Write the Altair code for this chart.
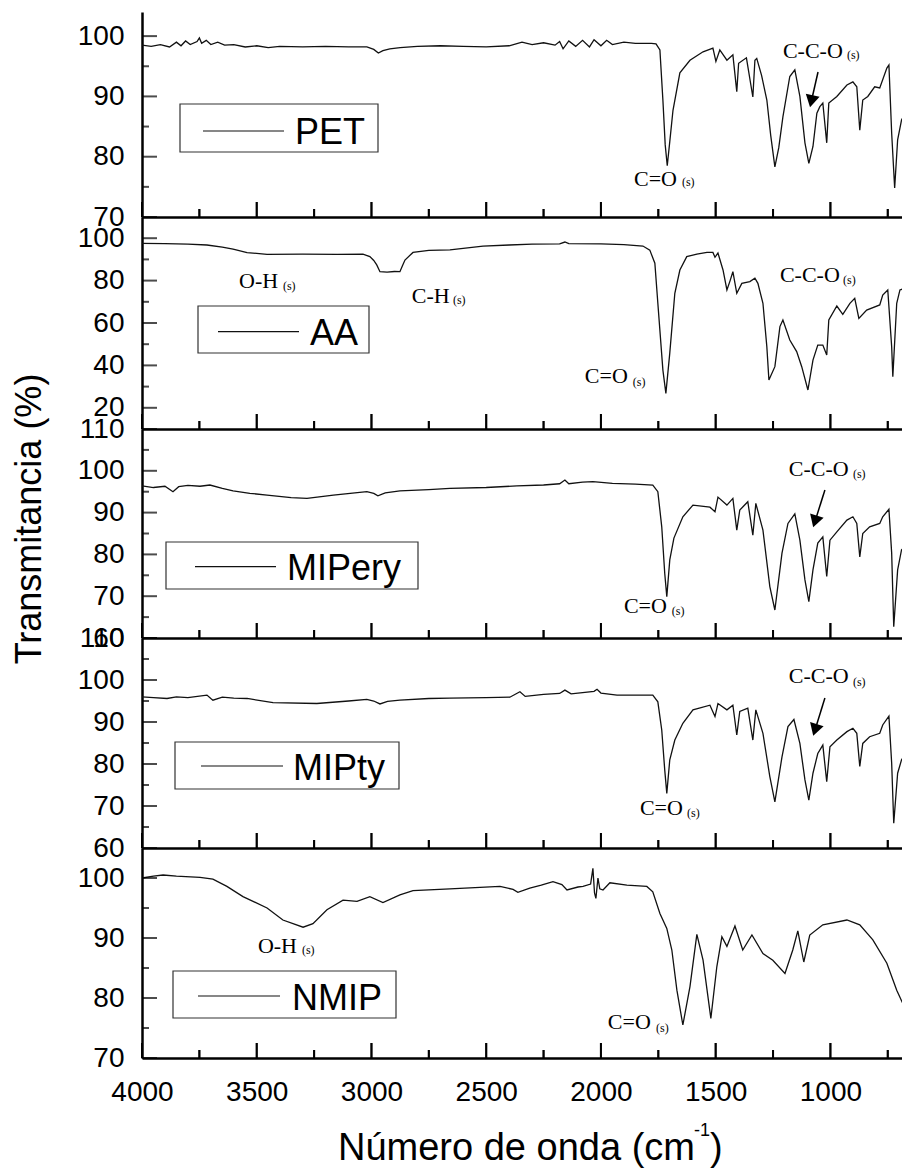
import altair as alt
import pandas as pd

# ---------------- spectra (wavenumber cm-1, transmittance %) ----------------
PET_WN = [4000, 3960, 3920, 3880, 3850, 3830, 3810, 3790, 3760, 3750, 3740, 3720, 3700, 3670, 3640, 3600,
          3550, 3500, 3450, 3400, 3300, 3200, 3100, 3020, 2990, 2970, 2950, 2920, 2875, 2800, 2700, 2600,
          2500, 2400, 2344, 2300, 2250, 2200, 2180, 2165, 2140, 2110, 2080, 2050, 2030, 2000, 1975, 1950,
          1900, 1850, 1780, 1760, 1743, 1730, 1720, 1711, 1700, 1686, 1656, 1612, 1555, 1512, 1499, 1482,
          1451, 1425, 1408, 1400, 1366, 1338, 1329, 1321, 1300, 1277, 1260, 1242, 1225, 1207, 1177, 1155,
          1133, 1111, 1094, 1076, 1059, 1046, 1033, 1016, 1007, 972, 928, 902, 885, 872, 859, 837, 807,
          785, 754, 745, 733, 720, 707, 690, 675]
PET_T = [98.5, 98.3, 98.6, 98.2, 99.0, 98.4, 99.2, 98.6, 99.1, 99.7, 98.8, 99.3, 98.6, 99.0, 98.5, 98.6,
         98.2, 98.4, 98.1, 98.3, 98.2, 98.3, 98.2, 98.2, 97.8, 97.2, 97.6, 97.9, 98.1, 98.3, 98.4, 98.3,
         98.2, 98.4, 99.0, 98.6, 98.9, 98.5, 99.1, 97.9, 99.2, 98.3, 99.3, 98.2, 99.4, 98.4, 99.3, 98.6,
         99.0, 98.8, 98.8, 98.7, 97.7, 89.4, 82.0, 78.5, 82.5, 87.7, 93.9, 96.0, 97.4, 98.0, 95.8, 97.7,
         96.0, 96.9, 90.8, 95.5, 96.4, 89.9, 96.0, 96.3, 93.5, 89.4, 83.5, 78.3, 81.5, 86.6, 93.3, 94.4,
         90.0, 82.3, 78.9, 81.7, 87.2, 88.3, 88.9, 82.3, 88.9, 90.0, 91.9, 92.4, 91.6, 84.4, 89.4, 90.0, 91.6,
         91.4, 94.7, 95.2, 83.9, 74.8, 82.8, 86.1, 87.2]

AA_WN = [4000, 3900, 3800, 3717, 3650, 3603, 3542, 3455, 3300, 3150, 3037, 3007, 2990, 2977, 2963, 2932,
         2900, 2876, 2865, 2854, 2819, 2750, 2658, 2514, 2400, 2300, 2180, 2157, 2140, 2000, 1900, 1817,
         1787, 1765, 1752, 1730, 1717, 1700, 1678, 1656, 1626, 1582, 1538, 1512, 1503, 1490, 1468, 1451,
         1437, 1425, 1408, 1386, 1351, 1329, 1316, 1294, 1277, 1268, 1242, 1220, 1207, 1177, 1147, 1125,
         1098, 1076, 1055, 1033, 1016, 1007, 972, 946, 915, 894, 876, 842, 785, 772, 750, 733, 728, 711,
         697, 675]
AA_T = [97.6, 97.4, 97.2, 96.8, 95.8, 94.8, 93.2, 92.4, 92.5, 92.4, 92.5, 91.3, 89.5, 87.4, 84.2, 84.0,
        84.3, 84.2, 87.0, 89.7, 93.3, 94.3, 94.5, 96.3, 96.8, 97.2, 97.3, 98.2, 97.4, 97.3, 97.0, 96.3,
        94.4, 88.2, 69.3, 37.8, 26.8, 45.8, 74.0, 85.0, 91.3, 92.5, 93.3, 93.3, 91.0, 93.0, 85.0, 75.6,
        80.0, 84.2, 74.0, 78.7, 79.5, 81.1, 78.7, 69.3, 48.8, 33.1, 39.4, 58.3, 61.4, 52.0, 46.5, 39.4,
        28.4, 42.5, 49.6, 49.6, 44.9, 61.4, 68.0, 64.1, 69.3, 71.6, 62.2, 66.1, 68.5, 73.2, 75.6, 48.8, 34.7, 69.3,
        75.6, 76.4]

MIPERY_WN = [4000, 3950, 3900, 3865, 3840, 3800, 3747, 3704, 3650, 3603, 3530, 3455, 3350, 3281, 3166, 3020,
             2990, 2972, 2940, 2876, 2750, 2658, 2500, 2366, 2250, 2180, 2157, 2140, 2080, 2035, 1950, 1850,
             1774, 1752, 1735, 1722, 1713, 1700, 1682, 1643, 1599, 1525, 1503, 1490, 1451, 1425, 1408, 1395,
             1360, 1338, 1325, 1294, 1264, 1242, 1211, 1185, 1155, 1133, 1111, 1094, 1076, 1055, 1033, 1016,
             1002, 972, 928, 902, 885, 872, 859, 829, 785, 772, 745, 733, 724, 707, 690, 675]
MIPERY_T = [96.4, 96.0, 96.3, 95.0, 96.2, 96.5, 96.3, 96.6, 95.8, 95.2, 94.6, 94.2, 93.6, 93.4, 94.2, 95.0,
            94.6, 94.0, 94.7, 95.2, 95.5, 95.8, 96.0, 96.4, 96.6, 96.9, 97.8, 96.9, 97.3, 97.4, 97.0, 96.8,
            96.6, 95.0, 86.6, 75.5, 69.9, 78.7, 83.9, 89.0, 91.8, 91.3, 90.2, 93.7, 91.8, 93.4, 85.8, 90.6,
            92.6, 84.6, 92.2, 85.8, 72.3, 66.7, 80.3, 87.4, 89.7, 83.4, 73.9, 68.7, 76.3, 82.7, 84.2, 74.7,
            83.4, 85.4, 88.2, 89.0, 87.4, 79.4, 85.0, 86.6, 87.4, 89.0, 90.8, 80.3, 62.7, 76.3, 81.1, 81.8]

MIPTY_WN = [4000, 3950, 3891, 3850, 3800, 3717, 3700, 3691, 3650, 3600, 3542, 3429, 3238, 3100, 3020, 2990,
            2963, 2930, 2876, 2750, 2658, 2500, 2397, 2353, 2330, 2250, 2180, 2157, 2130, 2080, 2030, 2017,
            2000, 1930, 1774, 1752, 1735, 1722, 1713, 1700, 1678, 1643, 1599, 1525, 1503, 1490, 1451, 1425,
            1408, 1395, 1360, 1338, 1325, 1294, 1264, 1242, 1211, 1185, 1159, 1133, 1111, 1094, 1076, 1055,
            1033, 1016, 1002, 972, 928, 902, 885, 872, 859, 829, 785, 772, 745, 733, 724, 707, 690, 675]
MIPTY_T = [96.0, 95.8, 95.6, 96.0, 95.8, 96.4, 95.6, 95.2, 95.9, 95.7, 95.6, 94.6, 94.4, 95.0, 95.4, 95.0,
           94.3, 94.9, 95.2, 95.6, 95.7, 95.8, 95.9, 97.2, 96.1, 96.6, 96.8, 97.6, 96.7, 97.0, 97.3, 97.8,
           96.9, 96.4, 96.4, 94.8, 88.1, 78.6, 73.0, 81.0, 85.7, 89.7, 92.9, 94.0, 91.3, 94.4, 92.9, 94.0,
           86.9, 92.5, 93.3, 85.7, 92.9, 87.3, 77.0, 71.0, 81.7, 88.9, 90.6, 84.9, 76.2, 71.4, 77.8, 82.5,
           84.5, 75.8, 84.1, 85.7, 87.7, 88.5, 87.3, 79.4, 84.9, 86.5, 87.3, 89.3, 91.4, 80.2, 65.9, 77.8, 81.0, 82.1]

NMIP_WN = [4000, 3950, 3908, 3850, 3747, 3691, 3630, 3560, 3455, 3386, 3298, 3255, 3194, 3124, 3063, 3007,
           2950, 2876, 2819, 2658, 2440, 2383, 2362, 2310, 2260, 2209, 2170, 2148, 2100, 2078, 2045, 2035,
           2028, 2022, 2013, 2005, 1991, 1961, 1887, 1800, 1774, 1743, 1713, 1691, 1669, 1643, 1612, 1582,
           1555, 1521, 1495, 1473, 1451, 1416, 1382, 1342, 1294, 1251, 1198, 1164, 1142, 1116, 1090, 1033,
           928, 872, 815, 754, 711, 675]
NMIP_T = [100.0, 100.3, 100.5, 100.3, 100.1, 99.8, 98.6, 96.9, 95.0, 93.0, 91.8, 92.4, 94.7, 96.3, 96.1, 96.9,
          95.9, 97.2, 97.9, 98.2, 98.6, 98.1, 97.6, 98.3, 98.8, 99.4, 98.9, 98.0, 98.5, 98.6, 99.0, 101.6,
          97.5, 96.6, 100.0, 98.2, 98.0, 99.2, 98.8, 98.6, 97.7, 94.1, 91.6, 88.0, 81.3, 75.5, 81.9, 90.6,
          86.3, 76.6, 85.2, 90.2, 88.6, 92.0, 88.0, 90.5, 87.4, 86.3, 84.1, 88.0, 91.2, 86.0, 90.5, 92.2,
          93.0, 92.2, 89.7, 85.8, 81.3, 78.3]

NAMES = ["PET", "AA", "MIPery", "MIPty", "NMIP"]
SPECTRA = [(PET_WN, PET_T), (AA_WN, AA_T), (MIPERY_WN, MIPERY_T), (MIPTY_WN, MIPTY_T), (NMIP_WN, NMIP_T)]

# ---------------- axes ----------------
X_DOMAIN = [4000, 688]
X_MAJOR = [4000, 3500, 3000, 2500, 2000, 1500, 1000]
X_MINOR = [3750, 3250, 2750, 2250, 1750, 1250, 750]
Y_DOMAINS = [[70, 104], [10, 110], [60, 110], [60, 110], [70, 105]]
Y_MAJOR = [[70, 80, 90, 100], [20, 40, 60, 80, 100], [60, 70, 80, 90, 100, 110],
           [60, 70, 80, 90, 100, 110], [70, 80, 90, 100]]
Y_MINOR = [[75, 85, 95], [30, 50, 70, 90], [65, 75, 85, 95, 105], [65, 75, 85, 95, 105], [75, 85, 95]]

# ---------------- annotations (text, wavenumber, transmittance, font size) ----------------
ANN_TEXT = [["C=O", "(s)", "C-C-O", "(s)"],
            ["O-H", "(s)", "C-H", "(s)", "C=O", "(s)", "C-C-O", "(s)"],
            ["C=O", "(s)", "C-C-O", "(s)"],
            ["C=O", "(s)", "C-C-O", "(s)"],
            ["O-H", "(s)", "C=O", "(s)"]]
ANN_WN = [[1856, 1647, 1207, 928],
          [3577, 3386, 2824, 2645, 2070, 1861, 1220, 945],
          [1900, 1691, 1181, 902],
          [1830, 1625, 1181, 902],
          [3495, 3303, 1970, 1760]]
ANN_T = [[75.2, 75.1, 96.4, 96.2],
         [76.4, 75.6, 69.3, 68.8, 31.7, 30.3, 79.3, 78.4],
         [66.05, 65.5, 98.76, 98.3],
         [67.86, 67.45, 99.2, 98.6],
         [87.55, 87.33, 74.83, 74.4]]
ANN_FS = [[22, 12, 22, 12],
          [22, 12, 22, 12, 22, 12, 22, 12],
          [22, 12, 22, 12],
          [22, 12, 22, 12],
          [22, 12, 22, 12]]

# arrows: start (wn, T), head centre (wn, T), head rotation
ARROWS = {0: (1054, 94.05, 1083, 89.2, 12.5),
          2: (1024, 95.4, 1067, 87.9, 17.5),
          3: (1024, 95.7, 1067, 88.1, 17.2)}

# ---------------- layout ----------------
W = 760
HEIGHTS = [205, 212, 209, 210, 210]
# legend boxes (panel pixel layout): box x0,x1,y0,y1 ; line x0,x1,y ; text x, baseline y
LEG_BOX = [(38, 236, 92, 140), (56, 227, 89, 136), (24, 276, 113, 160), (33, 257, 104, 151), (31, 254, 123, 170)]
LEG_LINE = [(61, 142, 119), (76, 157, 114.7), (53, 134, 137.7), (59, 141, 128), (56, 138, 148)]
LEG_TEXT = [(153, 132), (168, 128), (145, 151), (151, 142), (150, 162)]
# x-axis title pieces: text, x, baseline y, font size (panel 5 pixels)
XT_TEXT = ["Número de onda (cm", "-1", ")"]
XT_POS = [(196, 312, 38), (552, 288, 18), (568, 312, 38)]
MAJOR_LEN, MINOR_LEN = 15, 8

SANS = "Liberation Sans"
SERIF = "Liberation Serif"


def panel(i):
    H = HEIGHTS[i]
    xs = alt.Scale(domain=X_DOMAIN, nice=False, zero=False)
    ys = alt.Scale(domain=Y_DOMAINS[i], nice=False, zero=False)
    last = i == len(NAMES) - 1
    if last:
        xaxis = alt.Axis(values=X_MAJOR, title=None, grid=False, ticks=False, tickSize=0,
                         domain=True, domainColor="black", domainWidth=2.5,
                         labelFont=SANS, labelFontSize=28, labelColor="black",
                         labelPadding=20, labelFlush=False, labelOverlap=False, format="d")
    else:
        xaxis = alt.Axis(values=X_MAJOR, title=None, grid=False, ticks=False, tickSize=0, labels=False,
                         domain=True, domainColor="black", domainWidth=2.5)
    yaxis = alt.Axis(values=Y_MAJOR[i], title=None, grid=False, ticks=False, tickSize=0,
                     domain=True, domainColor="black", domainWidth=2.5,
                     labelFont=SANS, labelFontSize=28, labelColor="black",
                     labelPadding=18, labelFlush=False, labelOverlap=False, format="d")

    wn, tr = SPECTRA[i]
    df = pd.DataFrame({"wn": wn, "T": tr})
    line = alt.Chart(df).mark_line(color="#111111", strokeWidth=1.3, clip=True).encode(
        x=alt.X("wn:Q", scale=xs, axis=xaxis),
        y=alt.Y("T:Q", scale=ys, axis=yaxis),
    )
    layers = [line]

    # inward y ticks
    for vals, ln in ((Y_MAJOR[i], MAJOR_LEN), (Y_MINOR[i], 7)):
        layers.append(alt.Chart(pd.DataFrame({"T": vals})).mark_tick(
            orient="horizontal", color="black", thickness=2, size=ln).encode(
            y=alt.Y("T:Q", scale=ys, axis=yaxis), x=alt.value(ln / 2)))
    # inward x ticks (tick rects, plus rules on top of them)
    for vals, ln in ((X_MAJOR, MAJOR_LEN), (X_MINOR, MINOR_LEN)):
        layers.append(alt.Chart(pd.DataFrame({"wn": vals})).mark_tick(
            orient="vertical", color="black", thickness=2, size=ln).encode(
            x=alt.X("wn:Q", scale=xs, axis=xaxis), y=alt.value(H - ln / 2)))
        layers.append(alt.Chart(pd.DataFrame({"xtick": vals})).mark_rule(
            color="black", strokeWidth=2).encode(
            x=alt.X("xtick:Q", scale=xs, axis=xaxis), y=alt.value(H), y2=alt.value(H - ln)))

    # peak annotations
    adf = pd.DataFrame({"txt": ANN_TEXT[i], "wn": ANN_WN[i], "T": ANN_T[i], "fs": ANN_FS[i]})
    layers.append(alt.Chart(adf).mark_text(font=SERIF, align="left", baseline="alphabetic", color="black").encode(
        x=alt.X("wn:Q", scale=xs, axis=xaxis), y=alt.Y("T:Q", scale=ys, axis=yaxis),
        text="txt:N", size=alt.Size("fs:Q", scale=None, legend=None)))

    if i in ARROWS:
        ax0, ay0, ax1, ay1, ang = ARROWS[i]
        ardf = pd.DataFrame({"wn": [ax0], "T": [ay0], "wn2": [ax1], "T2": [ay1]})
        layers.append(alt.Chart(ardf).mark_rule(color="black", strokeWidth=1.5).encode(
            x=alt.X("wn:Q", scale=xs, axis=xaxis), x2="wn2:Q",
            y=alt.Y("T:Q", scale=ys, axis=yaxis), y2="T2:Q"))
        hdf = pd.DataFrame({"wn": [ax1], "T": [ay1]})
        layers.append(alt.Chart(hdf).mark_point(shape="triangle-down", filled=True, color="black",
                                                opacity=1, size=200, angle=ang).encode(
            x=alt.X("wn:Q", scale=xs, axis=xaxis), y=alt.Y("T:Q", scale=ys, axis=yaxis)))

    # legend box
    ldf = pd.DataFrame({"name": [NAMES[i]]})
    bx0, bx1, by0, by1 = LEG_BOX[i]
    lx0, lx1, ly = LEG_LINE[i]
    tx, ty = LEG_TEXT[i]
    layers.append(alt.Chart(ldf).mark_rect(fillOpacity=0, stroke="#333333", strokeWidth=1.2).encode(
        x=alt.value(bx0), x2=alt.value(bx1), y=alt.value(by0), y2=alt.value(by1)))
    layers.append(alt.Chart(ldf).mark_rule(color="#111111", strokeWidth=1.2).encode(
        x=alt.value(lx0), x2=alt.value(lx1), y=alt.value(ly)))
    layers.append(alt.Chart(ldf).mark_text(font=SANS, fontSize=36, align="left", baseline="alphabetic",
                                           color="black").encode(
        x=alt.value(tx), y=alt.value(ty), text="name:N"))

    if i == 0:
        # anchor of the page's top-left corner
        layers.append(alt.Chart(ldf).mark_rect(opacity=0).encode(
            x=alt.value(-142), x2=alt.value(-141), y=alt.value(-12), y2=alt.value(-11)))
    if i == 2:
        tdf = pd.DataFrame({"t": ["Transmitancia (%)"]})
        layers.append(alt.Chart(tdf).mark_text(font=SANS, fontSize=36, angle=270, align="center",
                                               baseline="middle", color="black").encode(
            x=alt.value(-112), y=alt.value(90), text="t:N"))
    if last:
        for txt, (px, py, fs) in zip(XT_TEXT, XT_POS):
            tdf = pd.DataFrame({"t": [txt]})
            layers.append(alt.Chart(tdf).mark_text(font=SANS, fontSize=fs, align="left",
                                                   baseline="alphabetic", color="black").encode(
                x=alt.value(px), y=alt.value(py), text="t:N"))

    return alt.layer(*layers).properties(width=W, height=H)


chart = alt.vconcat(*[panel(i) for i in range(len(NAMES))], spacing=0, bounds="flush").properties(
    padding=0, background="white"
).configure_view(strokeWidth=0)

chart.save("out.html", embed_options={"renderer": "svg", "actions": False})
